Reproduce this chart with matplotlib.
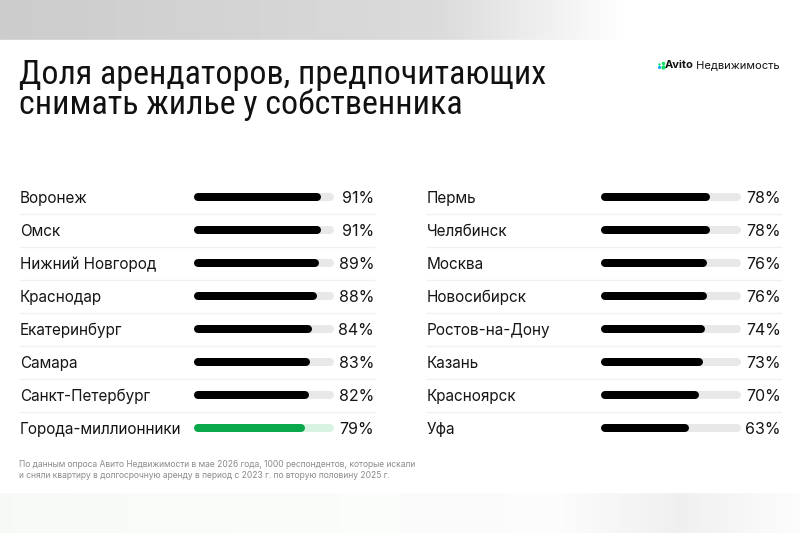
import matplotlib
matplotlib.use("Agg")
import matplotlib.pyplot as plt
import numpy as np
from matplotlib import font_manager

left_cities = ["Воронеж", "Омск", "Нижний Новгород", "Краснодар", "Екатеринбург",
               "Самара", "Санкт-Петербург", "Города-миллионники"]
left_values = [91, 91, 89, 88, 84, 83, 82, 79]
right_cities = ["Пермь", "Челябинск", "Москва", "Новосибирск", "Ростов-на-Дону",
                "Казань", "Красноярск", "Уфа"]
right_values = [78, 78, 76, 76, 74, 73, 70, 63]
highlight = "Города-миллионники"

title_lines = ["Доля арендаторов, предпочитающих", "снимать жилье у собственника"]
brand = "Avito"
brand_rest = " Недвижимость"
footnote = ("По данным опроса Авито Недвижимости в мае 2026 года, 1000 респондентов, которые искали\n"
            "и сняли квартиру в долгосрочную аренду в период с 2023 г. по вторую половину 2025 г.")

W, H = 800, 533
fig = plt.figure(figsize=(8, 5.33), dpi=100)

avail = set(f.name for f in font_manager.fontManager.ttflist)
cond = [n for n in ['Roboto Condensed', 'Liberation Sans Narrow', 'Open Sans Condensed',
                    'Roboto'] if n in avail]
TFONT = cond + ['DejaVu Sans']
TSIZE = 24.5 if cond and cond[0] != 'Roboto' else 22.5
LFONT = ['Inter', 'DejaVu Sans']

# background
bg = fig.add_axes([0, 0, 1, 1])
bg.set_xlim(0, W); bg.set_ylim(H, 0); bg.axis('off')
xs = np.linspace(0, 1, 400)
g = np.interp(xs, [0, 0.55, 0.78, 1], [0.80, 0.86, 1.0, 1.0])
top = np.tile(g, (20, 1))
bg.imshow(np.dstack([top]*3), extent=[0, W, 40, 0], aspect='auto', zorder=0)
gb = np.interp(xs, [0, 0.7, 0.85, 0.95, 1], [0.97, 0.99, 0.94, 0.975, 0.99])
bot = np.dstack([np.tile(gb, (20, 1))]*3)
bot[:, :200, 1] = np.minimum(1, bot[:, :200, 1] + 0.01)
bg.imshow(bot, extent=[0, W, H, 492], aspect='auto', zorder=0)
bg.add_patch(plt.Rectangle((0, 40), W, 452, color='white', zorder=1))

# title (va='baseline' anchors the last line)
fig.text(19/W, 1-114/H, "\n".join(title_lines), fontsize=TSIZE, family=TFONT,
         color='#111111', va='baseline', linespacing=0.92)

# logo
t = fig.text(780/W, 1-65/H, brand_rest, fontsize=8, family=LFONT,
             ha='right', va='center', color='#111111')
fig.canvas.draw()
bb = t.get_window_extent()
t2 = fig.text(bb.x0/W, 1-65/H, brand, fontsize=8, family=LFONT, weight='bold',
              ha='right', va='center', color='#111111')
bb2 = t2.get_window_extent()
ix = bb2.x0 - 7
dots_x = [ix + 1.5, ix + 5.0, ix + 1.8, ix + 5.2]
dots_y = [H - 65 + 1.5, H - 65 + 2.5, H - 65 - 2.2, H - 65 - 1.8]
cols = ['#04e061', '#04e061', '#00aaff', '#04e061']
sizes = [3, 6, 5, 9]
for x, y, c, s in zip(dots_x, dots_y, cols, sizes):
    bg.scatter([x], [H - y], s=s, color=c, zorder=5, linewidths=0)

# bars
row_y0 = 197
row_step = 33
track_w = 140
bar_px = 8
lw_pt = bar_px * 72 / 100

def draw_column(cities, values, lab_x, track_x, pct_x):
    n = len(cities)
    top_px = row_y0 - row_step / 2
    hgt = row_step * n
    ax = fig.add_axes([track_x / W, 1 - (top_px + hgt) / H, track_w / W, hgt / H])
    ax.set_xlim(0, 100)
    ax.set_ylim(n - 0.5, -0.5)
    ax.axis('off')
    cap = (bar_px / 2) / track_w * 100
    for i, (c, v) in enumerate(zip(cities, values)):
        hl = c == highlight
        fg = '#0aa74b' if hl else '#000000'
        tr = '#d8f3e2' if hl else '#e8e8e8'
        ax.plot([cap, 100 - cap], [i, i], color=tr, lw=lw_pt,
                solid_capstyle='round', zorder=2)
        ax.plot([cap, v - cap], [i, i], color=fg, lw=lw_pt,
                solid_capstyle='round', zorder=3)
        yf = 1 - (row_y0 + i * row_step) / H
        fig.text(lab_x / W, yf, c, fontsize=11, family=LFONT, color='#151515',
                 va='center_baseline', ha='left')
        fig.text(pct_x / W, yf, f"{v}%", fontsize=11.5, family=LFONT, color='#151515',
                 va='center_baseline', ha='right')
        if i < n - 1:
            ys = row_y0 + (i + 0.5) * row_step
            bg.plot([lab_x, pct_x], [ys, ys], color='#f0f0f0', lw=1, zorder=2)

draw_column(left_cities, left_values, 20, 194, 374)
draw_column(right_cities, right_values, 427, 601, 781)

fig.text(19/W, 1-470/H, footnote, fontsize=6.1, family=LFONT, color='#8a8a8a',
         va='center', ha='left', linespacing=1.35)

fig.savefig("out.png", dpi=100)
